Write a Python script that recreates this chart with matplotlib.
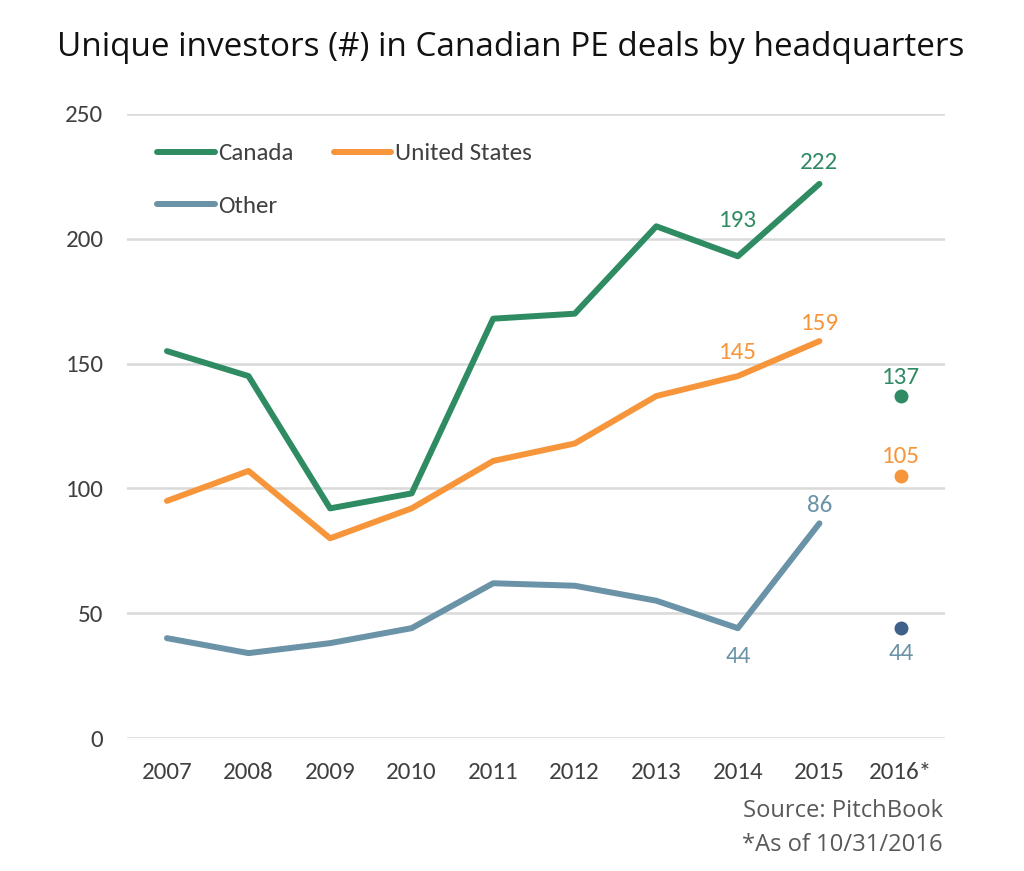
import matplotlib
matplotlib.use("Agg")
import matplotlib.pyplot as plt
from matplotlib import font_manager as fm

# -- data --------------------------------------------------------------------
years = ["2007", "2008", "2009", "2010", "2011", "2012", "2013", "2014", "2015", "2016*"]
canada = [155, 145, 92, 98, 168, 170, 205, 193, 222]
united_states = [95, 107, 80, 92, 111, 118, 137, 145, 159]
other = [40, 34, 38, 44, 62, 61, 55, 44, 86]
ytd_2016 = {"Canada": 137, "United States": 105, "Other": 44}
y_ticks = [0, 50, 100, 150, 200, 250]

C_CAN = "#2e8b62"
C_US = "#f7953b"
C_OTH = "#6a93a8"
C_OTH_DOT = "#3f6089"
C_GRID = "#d9d9d9"
C_TICK = "#404040"


def _pick(*names):
    have = {f.name for f in fm.fontManager.ttflist}
    for n in names:
        if n in have:
            return n
    return "DejaVu Sans"


F_NUM = _pick("Carlito", "Liberation Sans Narrow", "Lato")
F_TITLE = _pick("Open Sans", "Lato", "Noto Sans")


def _fit(txt, width_px):
    """Ajusta el tamaño de fuente para que el texto ocupe width_px."""
    r = fig.canvas.get_renderer()
    w = txt.get_window_extent(r).width
    txt.set_fontsize(txt.get_fontsize() * width_px / w)


fig = plt.figure(figsize=(10.24, 8.71), dpi=100)
ax = fig.add_axes([127 / 1024, 133 / 871, 818 / 1024, 624 / 871])

x = list(range(len(years)))
n = len(canada)
ax.plot(x[:n], canada, color=C_CAN, lw=4.3, solid_capstyle="round", label="Canada")
ax.plot(x[:n], united_states, color=C_US, lw=4.3, solid_capstyle="round", label="United States")
ax.plot(x[:n], other, color=C_OTH, lw=4.3, solid_capstyle="round", label="Other")

ax.plot(x[-1], ytd_2016["Canada"], "o", color=C_CAN, ms=9)
ax.plot(x[-1], ytd_2016["United States"], "o", color=C_US, ms=9)
ax.plot(x[-1], ytd_2016["Other"], "o", color=C_OTH_DOT, ms=9)

# etiquetas de datos
labels = [
    (7, canada[7], C_CAN, 36),
    (8, canada[8], C_CAN, 21),
    (7, united_states[7], C_US, 24),
    (8, united_states[8], C_US, 18),
    (8, other[8], C_OTH, 18),
    (7, other[7], C_OTH, -28),
    (9, ytd_2016["Canada"], C_CAN, 19),
    (9, ytd_2016["United States"], C_US, 19),
    (9, ytd_2016["Other"], C_OTH, -25),
]
for xi, yi, col, dy in labels:
    ax.annotate(str(yi), (xi, yi), textcoords="offset pixels", xytext=(0, dy),
                ha="center", va="center", color=col, fontsize=18, family=F_NUM)

ax.set_xlim(-0.49, 9.54)
ax.set_ylim(0, 250)
ax.set_yticks(y_ticks)
ax.set_xticks(x)
ax.set_xticklabels(years)
ax.grid(axis="y", color=C_GRID, lw=1.8)
ax.set_axisbelow(True)
for s in ax.spines.values():
    s.set_visible(False)
ax.tick_params(length=0, labelsize=18, labelcolor=C_TICK)
ax.tick_params(axis="y", pad=17)
ax.tick_params(axis="x", pad=17)
for t in ax.get_xticklabels() + ax.get_yticklabels():
    t.set_family(F_NUM)

h, l = ax.get_legend_handles_labels()
order = [0, 2, 1]
ax.legend([h[i] for i in order], [l[i] for i in order], ncol=2, loc="upper left",
          bbox_to_anchor=(30 / 818, 595 / 624), frameon=False,
          prop={"family": F_NUM, "size": 18}, labelcolor=C_TICK,
          handlelength=2.3, handletextpad=0.15, columnspacing=1.6,
          labelspacing=1.25, borderpad=0, borderaxespad=0)

title = fig.text(57 / 1024, 1 - 48 / 871,
                 "Unique investors (#) in Canadian PE deals by headquarters",
                 ha="left", va="center", fontsize=20, family=F_TITLE, color="#111111")
src1 = fig.text(943 / 1024, 1 - 811 / 871, "Source: PitchBook", ha="right", va="center",
                fontsize=14, family=F_TITLE, color="#595959")
src2 = fig.text(943 / 1024, 1 - 845 / 871, "*As of 10/31/2016", ha="right", va="center",
                fontsize=14, family=F_TITLE, color="#595959")
_fit(title, 905)
_fit(src1, 200)
src2.set_fontsize(src1.get_fontsize())

fig.savefig("out.png", dpi=100, facecolor="white")
